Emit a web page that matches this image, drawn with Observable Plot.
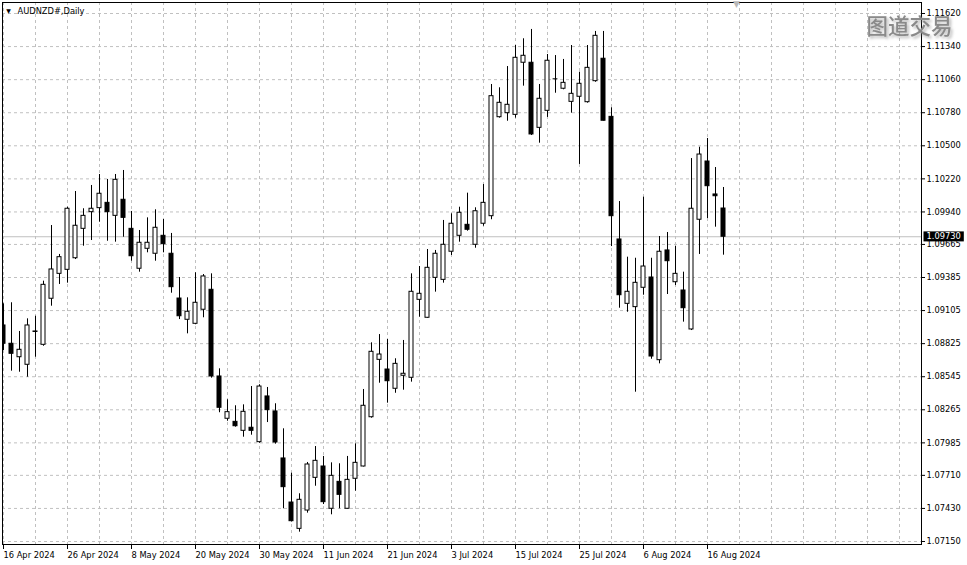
<!DOCTYPE html>
<html>
<head>
<meta charset="utf-8">
<script src="https://cdn.jsdelivr.net/npm/d3@7"></script>
<script src="https://cdn.jsdelivr.net/npm/@observablehq/plot@0.6"></script>
<style>
  html, body { margin: 0; padding: 0; background: #ffffff; }
  #chart { width: 967px; height: 565px; overflow: hidden; }
</style>
</head>
<body>
<div id="chart"></div>
<script>
const symbolTitle = "AUDNZD#,Daily";
const watermark = "图道交易";

const dates = [
  "2024-04-16","2024-04-17","2024-04-18","2024-04-19","2024-04-22","2024-04-23","2024-04-24","2024-04-25","2024-04-26","2024-04-29","2024-04-30",
  "2024-05-01","2024-05-02","2024-05-03","2024-05-06","2024-05-07","2024-05-08","2024-05-09","2024-05-10","2024-05-13","2024-05-14","2024-05-15",
  "2024-05-16","2024-05-17","2024-05-20","2024-05-21","2024-05-22","2024-05-23","2024-05-24","2024-05-27","2024-05-28","2024-05-29","2024-05-30","2024-05-31",
  "2024-06-03","2024-06-04","2024-06-05","2024-06-06","2024-06-07","2024-06-10","2024-06-11","2024-06-12","2024-06-13","2024-06-14","2024-06-17",
  "2024-06-18","2024-06-19","2024-06-20","2024-06-21","2024-06-24","2024-06-25","2024-06-26","2024-06-27","2024-06-28",
  "2024-07-01","2024-07-02","2024-07-03","2024-07-04","2024-07-05","2024-07-08","2024-07-09","2024-07-10","2024-07-11","2024-07-12","2024-07-15",
  "2024-07-16","2024-07-17","2024-07-18","2024-07-19","2024-07-22","2024-07-23","2024-07-24","2024-07-25","2024-07-26","2024-07-29","2024-07-30","2024-07-31",
  "2024-08-01","2024-08-02","2024-08-05","2024-08-06","2024-08-07","2024-08-08","2024-08-09","2024-08-12","2024-08-13","2024-08-14","2024-08-15","2024-08-16",
  "2024-08-19","2024-08-20"
];

const open = [
  1.08979,1.08824,1.08710,1.08646,1.08928,1.08815,1.09205,1.09416,1.09450,1.09548,
  1.09797,1.09938,1.09972,1.10017,1.09907,1.10043,1.09797,1.09459,1.09628,1.09586,
  1.09738,1.09586,1.09207,1.09027,1.08993,1.09112,1.09281,1.08547,1.08189,1.08163,
  1.08087,1.08113,1.07991,1.08378,1.08251,1.07853,1.07480,1.07257,1.07412,1.07689,
  1.07785,1.07427,1.07655,1.07427,1.07681,1.07785,1.08202,1.08688,1.08606,1.08443,
  1.08553,1.08536,1.09196,1.09044,1.09382,1.09365,1.09603,1.09738,1.09831,1.09662,
  1.09840,1.09904,1.10742,1.10776,1.10762,1.11203,1.11203,1.10652,1.10796,1.11067,
  1.10983,1.10872,1.10915,1.10869,1.11047,1.11237,1.10745,1.09707,1.09162,1.09134,
  1.09298,1.09385,1.08685,1.09614,1.09345,1.09275,1.08945,1.09874,1.10367,1.10088,
  1.09969
];
const high = [
  1.09162,1.09171,1.08928,1.09035,1.09057,1.09354,1.09825,1.09580,1.09980,1.10113,
  1.09967,1.10164,1.10257,1.10215,1.10257,1.10291,1.09944,1.09783,1.09890,1.09958,
  1.09876,1.09758,1.09385,1.09213,1.09425,1.09410,1.09416,1.08612,1.08350,1.08299,
  1.08307,1.08462,1.08477,1.08454,1.08316,1.08104,1.07728,1.07554,1.07819,1.07954,
  1.07870,1.07816,1.07808,1.07870,1.07977,1.08437,1.08832,1.08902,1.08860,1.08697,
  1.08852,1.09416,1.09478,1.09622,1.09614,1.09868,1.09924,1.09980,1.10099,1.09975,
  1.10172,1.11019,1.10991,1.11171,1.11349,1.11406,1.11485,1.11019,1.11273,1.11264,
  1.11231,1.11349,1.11123,1.11349,1.11468,1.11468,1.10822,1.10028,1.09557,1.09548,
  1.10065,1.09548,1.09732,1.09766,1.09650,1.09430,1.10392,1.10488,1.10562,1.10316,
  1.10147
];
const low = [
  1.08767,1.08592,1.08583,1.08541,1.08710,1.08803,1.09142,1.09326,1.09337,1.09537,
  1.09650,1.09698,1.09853,1.09692,1.09684,1.09726,1.09523,1.09430,1.09594,1.09523,
  1.09594,1.09252,1.09029,1.08908,1.08985,1.09044,1.08533,1.08240,1.08168,1.08118,
  1.08033,1.08050,1.07982,1.08157,1.07974,1.07427,1.07315,1.07229,1.07390,1.07618,
  1.07463,1.07376,1.07427,1.07424,1.07576,1.07781,1.08194,1.08490,1.08321,1.08405,
  1.08431,1.08499,1.09049,1.09040,1.09261,1.09337,1.09571,1.09684,1.09777,1.09633,
  1.09819,1.09874,1.10734,1.10708,1.10734,1.11005,1.10587,1.10522,1.10740,1.10945,
  1.10974,1.10776,1.10342,1.10861,1.11038,1.10710,1.09647,1.09125,1.09091,1.08414,
  1.09235,1.08693,1.08654,1.09241,1.09317,1.09007,1.08936,1.09580,1.09884,1.09811,
  1.09574
];
const close = [
  1.08824,1.08739,1.08773,1.08979,1.08924,1.09323,1.09453,1.09557,1.09967,1.09823,
  1.09907,1.09967,1.10094,1.09938,1.10212,1.09890,1.09565,1.09679,1.09679,1.09806,
  1.09667,1.09303,1.09057,1.09095,1.09171,1.09394,1.08547,1.08282,1.08245,1.08126,
  1.08248,1.08087,1.08462,1.08262,1.07988,1.07610,1.07322,1.07503,1.07802,1.07833,
  1.07483,1.07706,1.07545,1.07672,1.07816,1.08299,1.08756,1.08733,1.08507,1.08654,
  1.08570,1.09264,1.09247,1.09467,1.09586,1.09662,1.09840,1.09933,1.09789,1.09946,
  1.10017,1.10920,1.10864,1.10847,1.11245,1.11262,1.10596,1.10898,1.11220,1.11067,
  1.11033,1.10940,1.11025,1.11160,1.11431,1.10712,1.09904,1.09235,1.09264,1.09340,
  1.09478,1.08716,1.09603,1.09523,1.09416,1.09125,1.09967,1.10426,1.10158,1.10073,
  1.09730
];

const priceTicks = [1.07150,1.07430,1.07710,1.07985,1.08265,1.08545,1.08825,1.09105,1.09385,
                    1.09665,1.09940,1.10220,1.10500,1.10780,1.11060,1.11340,1.11620];
const dateTickLabels = ["16 Apr 2024","26 Apr 2024","8 May 2024","20 May 2024","30 May 2024","11 Jun 2024",
                        "21 Jun 2024","3 Jul 2024","15 Jul 2024","25 Jul 2024","6 Aug 2024","16 Aug 2024"];
const lastPrice = 1.09730;

const bars = dates.map((d, i) => ({i, date: d, o: open[i], h: high[i], l: low[i], c: close[i]}));
const parseLabel = d3.timeParse("%d %b %Y");
const fmtISO = d3.timeFormat("%Y-%m-%d");
const dateTickIndex = dateTickLabels.map(s => dates.indexOf(fmtISO(parseLabel(s))));
const labelByIndex = new Map(dateTickIndex.map((idx, k) => [idx, dateTickLabels[k]]));
const gridXIndex = d3.range(0, 116, 4);
const fmt5 = d3.format(".5f");

const FONT = "DejaVu Sans, Verdana, sans-serif";
const grid = {stroke: "#c0c0c0", strokeOpacity: 1, strokeDasharray: "3,3"};

const chart = Plot.plot({
  width: 967,
  height: 565,
  marginLeft: 2,
  marginRight: 46,
  marginTop: 2,
  marginBottom: 21,
  style: {fontFamily: FONT, fontSize: "8.3px", color: "#000", background: "#fff", overflow: "visible"},
  x: {type: "linear", domain: [-0.125, 114.75], axis: null},
  y: {type: "linear", domain: [1.071246, 1.117131], axis: null},
  marks: [
    Plot.gridY(priceTicks, grid),
    Plot.gridX(gridXIndex, grid),
    Plot.ruleY([lastPrice], {stroke: "#c0c0c0", strokeOpacity: 1}),
    Plot.ruleX(bars, {x: "i", y1: "l", y2: "h", stroke: "#000", strokeWidth: 1, clip: true}),
    Plot.rect(bars.filter(d => d.o !== d.c), {
      x1: d => d.i - 0.25, x2: d => d.i + 0.25, y1: "o", y2: "c",
      fill: d => d.c > d.o ? "#ffffff" : "#000000", stroke: "#000", strokeWidth: 1, clip: true
    }),
    Plot.ruleY(bars.filter(d => d.o === d.c), {
      y: "o", x1: d => d.i - 0.3, x2: d => d.i + 0.3, stroke: "#000", strokeWidth: 1, clip: true
    }),
    Plot.frame({stroke: "#000", strokeWidth: 1}),
    Plot.axisY(priceTicks, {
      anchor: "right", tickSize: 3, tickPadding: 2, tickFormat: fmt5, label: null,
      stroke: "#000", fill: "#000", fontSize: 8.3
    }),
    Plot.axisX(dateTickIndex, {
      anchor: "bottom", tickSize: 5, tickPadding: 3, tickFormat: i => labelByIndex.get(i), label: null,
      textAnchor: "start", stroke: "#000", fill: "#000", fontSize: 8.3
    }),
    Plot.text([lastPrice], {
      y: d => d, frameAnchor: "right", dx: 5, text: d => fmt5(d), fill: "#ffffff",
      textAnchor: "start", lineAnchor: "middle", fontSize: 8.3
    }),
    Plot.text([symbolTitle], {
      frameAnchor: "top-left", dx: 15, dy: 9, text: d => d, textAnchor: "start",
      lineAnchor: "middle", fill: "#000", fontSize: 8.3
    }),
    Plot.text(["▼"], {
      frameAnchor: "top-left", dx: 6, dy: 9, text: d => d, textAnchor: "middle",
      lineAnchor: "middle", fill: "#000", fontSize: 6
    }),
    Plot.text(["▼"], {
      frameAnchor: "top-left", dx: 734, dy: 2, text: d => d, textAnchor: "middle",
      lineAnchor: "middle", fill: "#b8b8b8", fontSize: 9
    }),
    Plot.text([watermark], {
      frameAnchor: "top-right", dx: 31, dy: 25, text: d => d, textAnchor: "end",
      lineAnchor: "middle", fill: "#8a8a8a", fontSize: 21.5, fontWeight: 500,
      fontFamily: "Noto Sans CJK SC"
    })
  ]
});

document.getElementById("chart").appendChild(chart);

// black background box behind the last-price label
const allText = Array.from(chart.querySelectorAll("text"));
const lp = allText.find(t => t.textContent === fmt5(lastPrice));
if (lp) {
  const bb = lp.getBBox();
  const r = document.createElementNS("http://www.w3.org/2000/svg", "rect");
  r.setAttribute("x", bb.x - 3);
  r.setAttribute("y", bb.y);
  r.setAttribute("width", bb.width + 6);
  r.setAttribute("height", bb.height);
  r.setAttribute("fill", "#000");
  if (lp.getAttribute("transform")) r.setAttribute("transform", lp.getAttribute("transform"));
  lp.parentNode.insertBefore(r, lp);
}
const wm = allText.find(t => t.textContent === watermark);
if (wm) wm.style.filter = "drop-shadow(2px 2px 1.5px rgba(120,120,120,0.55))";
</script>
</body>
</html>
